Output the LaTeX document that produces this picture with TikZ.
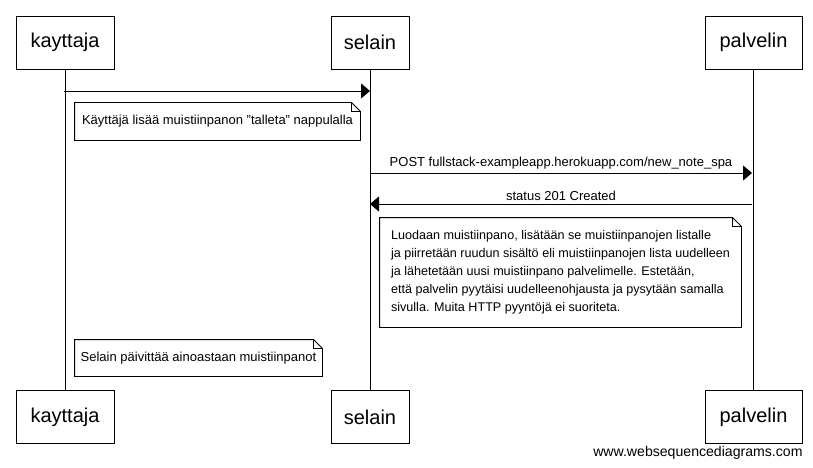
\documentclass[tikz,border=0pt]{standalone}
\usepackage{fontspec}
\setmainfont{Liberation Sans}
\usetikzlibrary{arrows.meta}

\tikzset{
  actor/.style={draw,minimum height=53pt,inner sep=0pt,font=\fontsize{20}{24}\selectfont},
  msg/.style={-{Triangle[length=9pt,width=15pt]}},
  label/.style={font=\fontsize{13}{16}\selectfont,inner sep=0pt},
  note/.style={minimum height=36pt,inner sep=0pt,align=left,font=\fontsize{13}{18}\selectfont}
}

% note outline with folded corner
\newcommand{\dogear}[1]{%
  \draw (#1.south west) -- (#1.north west) -- ([xshift=-9pt]#1.north east)
        -- ([yshift=-9pt]#1.north east) -- (#1.south east) -- cycle;
  \draw ([xshift=-9pt]#1.north east) -- ([xshift=-9pt,yshift=-9pt]#1.north east)
        -- ([yshift=-9pt]#1.north east);}

\begin{document}
\begin{tikzpicture}[x=1pt,y=-1pt,line width=0.9pt]
  \useasboundingbox (0,0) rectangle (813,468);

  \node[actor,minimum width=98pt] (K)  at (65,42.5)    {kayttaja};
  \node[actor,minimum width=78pt] (S)  at (370,42.5)   {selain};
  \node[actor,minimum width=97pt] (P)  at (753.5,42.5) {palvelin};
  \node[actor,minimum width=98pt] (K2) at (65,417)     {kayttaja};
  \node[actor,minimum width=78pt] (S2) at (370,417)    {selain};
  \node[actor,minimum width=97pt] (P2) at (753.5,417)  {palvelin};

  \draw (K) -- (K2);
  \draw (S) -- (S2);
  \draw (P) -- (P2);

  \coordinate (k1) at (64,91);
  \coordinate (s1) at (370,91);
  \coordinate (s2) at (370,173);
  \coordinate (p2) at (752,173);
  \coordinate (p3) at (752,204);
  \coordinate (s3) at (370,204);

  \draw[msg] (k1) -- (s1);
  \node[note,minimum width=285pt,minimum height=37pt] (N1) at (217.5,121.5)
    {Käyttäjä lisää muistiinpanon "talleta" nappulalla};
  \dogear{N1}

  \draw[msg] (s2) -- node[label,above=3pt] {POST fullstack-exampleapp.herokuapp.com/new\_note\_spa} (p2);
  \draw[msg] (p3) -- node[label,above=3pt] {status 201 Created} (s3);

  \node[note,minimum width=361pt,minimum height=109pt,font=\fontsize{12.6}{18}\selectfont] (N2) at (560.5,272.5)
    {Luodaan muistiinpano, lisätään se muistiinpanojen listalle\\
     ja piirretään ruudun sisältö eli muistiinpanojen lista uudelleen\\
     ja lähetetään uusi muistiinpano palvelimelle. Estetään,\\
     että palvelin pyytäisi uudelleenohjausta ja pysytään samalla\\
     sivulla. Muita HTTP pyyntöjä ei suoriteta.};
  \dogear{N2}

  \node[note,minimum width=247pt] (N3) at (198.5,358)
    {Selain päivittää ainoastaan muistiinpanot};
  \dogear{N3}

  \node[label,anchor=east,font=\fontsize{14.1}{16}\selectfont] (W) at (803,453) {www.websequencediagrams.com};

\end{tikzpicture}
\end{document}
